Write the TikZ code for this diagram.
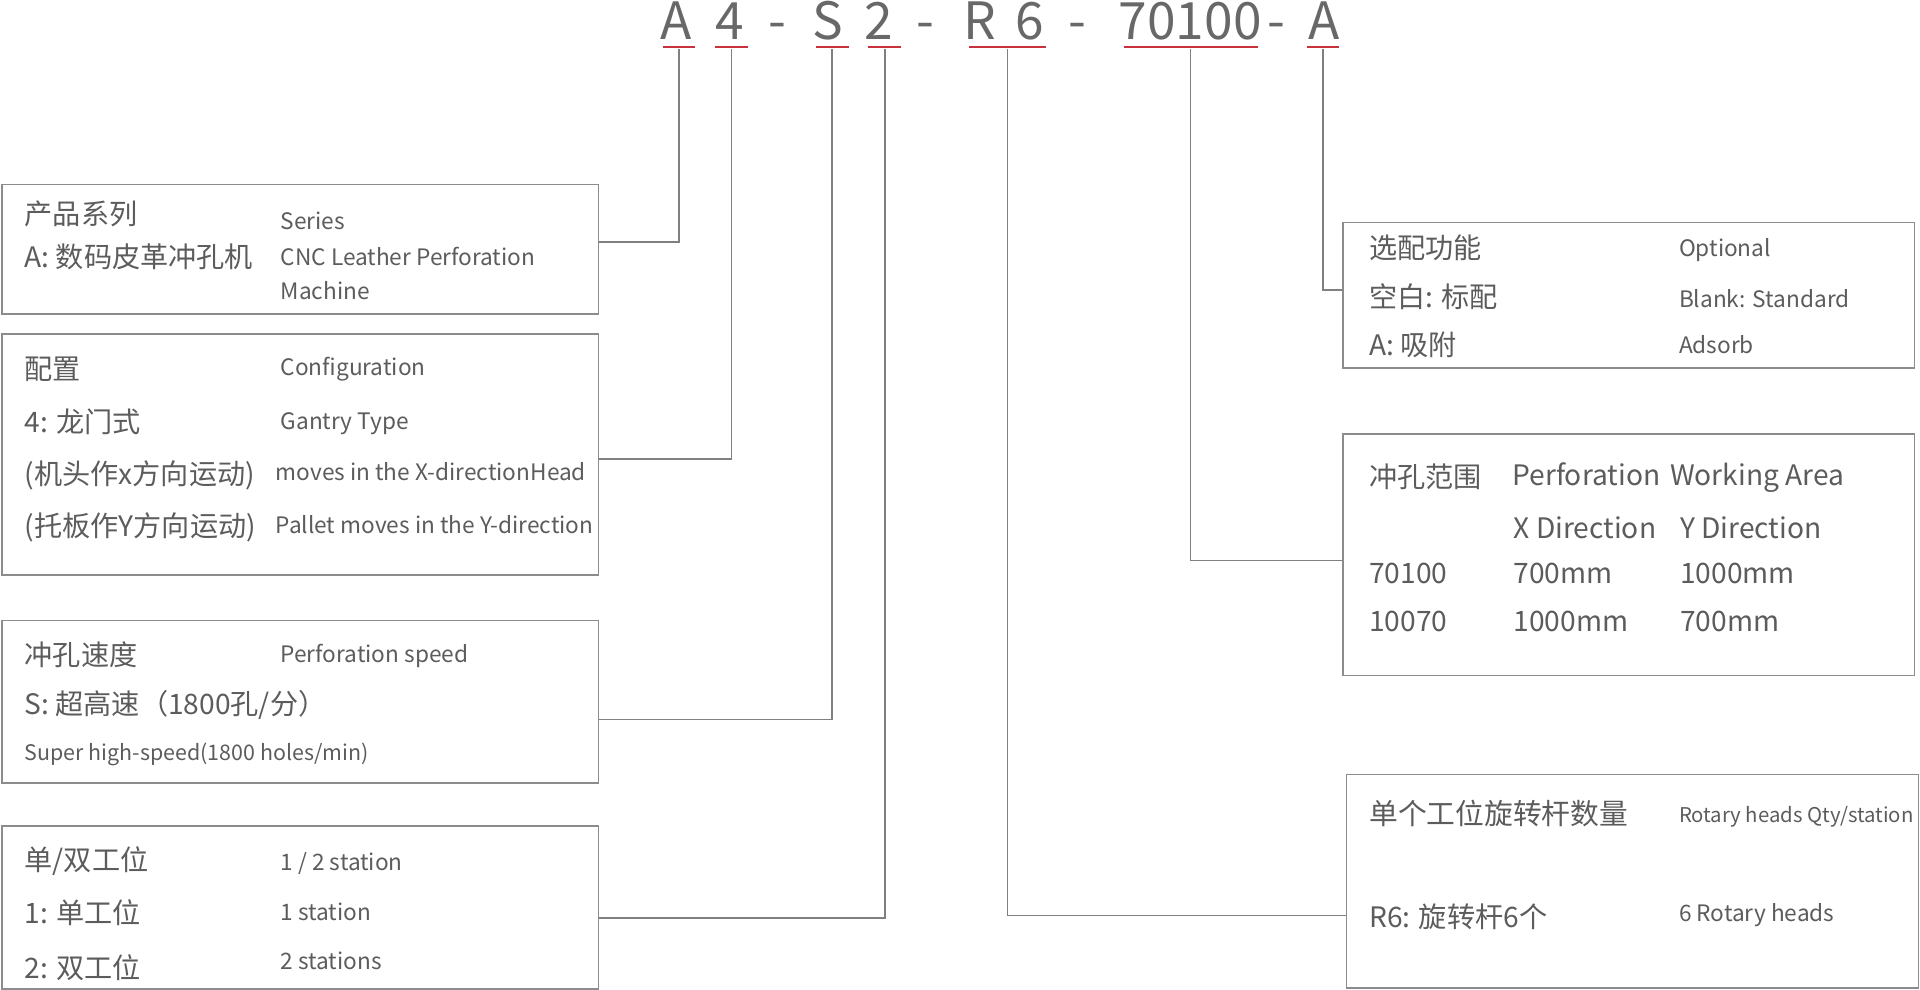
\documentclass[tikz,border=0pt]{standalone}
\usepackage{fontspec}
\setmainfont{Noto Sans CJK SC}
\usepackage{tikz}
\usetikzlibrary{positioning}

\definecolor{txtgray}{HTML}{5C5C5C}
\definecolor{codegray}{HTML}{686868}
\definecolor{boxgray}{HTML}{8C8C8C}
\definecolor{linegray}{HTML}{808080}
\definecolor{linered}{HTML}{C8323C}

\begin{document}
\begin{tikzpicture}[x=1pt,y=-1pt]
            \tikzstyle{box}   = [draw=boxgray, line width=1.3pt, inner sep=0pt, anchor=north west]
            \tikzstyle{code}  = [font=\fontsize{42}{42}\selectfont, text=codegray, inner sep=0pt, anchor=base]
            \tikzstyle{uline} = [fill=linered, inner sep=0pt, minimum height=2.2pt]
            \tikzstyle{cn}    = [font=\fontsize{23}{23}\selectfont, text=txtgray, inner sep=0pt, anchor=west, text height=0.88em, text depth=0.12em, yshift=-4.5pt]
            \tikzstyle{en}    = [font=\fontsize{18.5}{18.5}\selectfont, text=txtgray, inner sep=0pt, anchor=west, text height=0.66em, text depth=0pt, yshift=-4.5pt]
            \tikzstyle{big}   = [font=\fontsize{23}{23}\selectfont, text=txtgray, inner sep=0pt, anchor=west, text height=0.66em, text depth=0pt, yshift=-4.5pt]
            \tikzstyle{link}  = [draw=linegray, line width=1.3pt]

            \useasboundingbox (0,0) rectangle (1568,808);

            % Model code .........................
            \node[code] (cA)   at (552,32)  {A};
            \node[code] (c4)   at (596,32)  {4};
            \node[code] (d1)   at (635,32)  {-};
            \node[code] (cS)   at (676,32)  {S};
            \node[code] (c2)   at (718,32)  {2};
            \node[code] (d2)   at (756,32)  {-};
            \node[code] (cR)   at (800,32)  {R};
            \node[code] (c6)   at (841,32)  {6};
            \node[code] (d3)   at (880,32)  {-};
            \node[code] (c70)  at (972,32)  {70100};
            \node[code] (d4)   at (1042,32) {-};
            \node[code] (cA2)  at (1081,32) {A};

            \node[uline, minimum width=26pt]    (uA)    at (554.6,38.5)  {};
            \node[uline, minimum width=27pt]    (u4)    at (597.5,38.5)  {};
            \node[uline, minimum width=27pt]    (uS)    at (679.5,38.5)  {};
            \node[uline, minimum width=27pt]    (u2)    at (722.5,38.5)  {};
            \node[uline, minimum width=62.6pt]  (uR6)   at (822.7,38.5)  {};
            \node[uline, minimum width=109.4pt] (u70)   at (972.3,38.5)  {};
            \node[uline, minimum width=26.6pt]  (uA2)   at (1080.3,38.5) {};

            % Left boxes .........................
            \node[box, minimum width=487pt, minimum height=106pt] (series)  at (1,150) {};
            \node[box, minimum width=487pt, minimum height=197pt] (config)  at (1,272) {};
            \node[box, minimum width=487pt, minimum height=133pt] (speed)   at (1,506) {};
            \node[box, minimum width=487pt, minimum height=133pt] (station) at (1,674) {};

            \node[cn] (series1) at (20,175)  {产品系列};
            \node[en] (series2) at (229,180) {Series};
            \node[cn] (series3) at (20,210)  {A: 数码皮革冲孔机};
            \node[en] (series4) at (229,209) {CNC Leather Perforation};
            \node[en] (series5) at (229,237) {Machine};

            \node[cn] (config1) at (20,302)  {配置};
            \node[en] (config2) at (229,299) {Configuration};
            \node[cn] (config3) at (20,345)  {4: 龙门式};
            \node[en] (config4) at (229,343) {Gantry Type};
            \node[cn] (config5) at (20,387)  {(机头作x方向运动)};
            \node[en] (config6) at (225,385) {moves in the X-directionHead};
            \node[cn] (config7) at (20,430)  {(托板作Y方向运动)};
            \node[en] (config8) at (225,428) {Pallet moves in the Y-direction};

            \node[cn] (speed1) at (20,535)  {冲孔速度};
            \node[en] (speed2) at (229,533) {Perforation speed};
            \node[cn] (speed3) at (20,575)  {S: 超高速（1800孔/分）};
            \node[en, font=\fontsize{17.5}{17.5}\selectfont] (speed4) at (20,613) {Super high-speed(1800 holes/min)};

            \node[cn] (station1) at (20,703)  {单/双工位};
            \node[en] (station2) at (229,703) {1 / 2 station};
            \node[cn] (station3) at (20,746)  {1: 单工位};
            \node[en] (station4) at (229,744) {1 station};
            \node[cn] (station5) at (20,791)  {2: 双工位};
            \node[en] (station6) at (229,784) {2 stations};

            % Right boxes .........................
            \node[box, minimum width=467pt, minimum height=119pt] (option) at (1096,181) {};
            \node[box, minimum width=467pt, minimum height=197pt] (area)   at (1096,354) {};
            \node[box, minimum width=467pt, minimum height=174pt] (rotary) at (1099,632) {};

            \node[cn] (option1) at (1118,203) {选配功能};
            \node[en] (option2) at (1371,202) {Optional};
            \node[cn] (option3) at (1118,243) {空白: 标配};
            \node[en] (option4) at (1371,243) {Blank: Standard};
            \node[cn] (option5) at (1118,282) {A: 吸附};
            \node[en] (option6) at (1371,281) {Adsorb};

            \node[cn]  (area1)  at (1118,390) {冲孔范围};
            \node[big] (area2)  at (1235,389) {Perforation\hspace{8pt}Working Area};
            \node[big] (area3)  at (1236,432) {X Direction};
            \node[big] (area4)  at (1372,432) {Y Direction};
            \node[big] (area5)  at (1118,469) {70100};
            \node[big] (area6)  at (1236,469) {700mm};
            \node[big] (area7)  at (1372,469) {1000mm};
            \node[big] (area8)  at (1118,508) {10070};
            \node[big] (area9)  at (1236,508) {1000mm};
            \node[big] (area10) at (1372,508) {700mm};

            \node[cn, font=\fontsize{23.5}{23.5}\selectfont] (rotary1) at (1118,665) {单个工位旋转杆数量};
            \node[en, font=\fontsize{16.6}{16.6}\selectfont] (rotary2) at (1371,664) {Rotary heads Qty/station};
            \node[cn] (rotary3) at (1118,749) {R6: 旋转杆6个};
            \node[en] (rotary4) at (1371,745) {6 Rotary heads};

            % Connectors .........................
            \draw[link] (uA.south)  |- ([yshift=6pt]series.east);
            \draw[link] (u4.south)  |- ([yshift=-3.5pt]config.east);
            \draw[link] (uS.south)  |- ([yshift=-14.5pt]speed.east);
            \draw[link] (u2.south)  |- ([yshift=-8.5pt]station.east);
            \draw[link] (uR6.south) |- ([yshift=-28pt]rotary.west);
            \draw[link] (u70.south) |- ([yshift=-4.5pt]area.west);
            \draw[link] (uA2.south) |- ([yshift=4.5pt]option.west);

        \end{tikzpicture}
\end{document}
